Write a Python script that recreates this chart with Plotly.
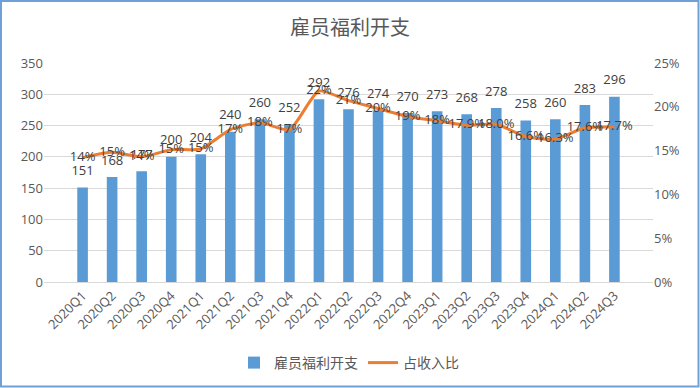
import plotly.graph_objects as go

quarters = ["2020Q1", "2020Q2", "2020Q3", "2020Q4", "2021Q1", "2021Q2", "2021Q3", "2021Q4",
            "2022Q1", "2022Q2", "2022Q3", "2022Q4", "2023Q1", "2023Q2", "2023Q3", "2023Q4",
            "2024Q1", "2024Q2", "2024Q3"]
expense = [151, 168, 177, 200, 204, 240, 260, 252, 292, 276, 274, 270, 273, 268, 278, 258, 260, 283, 296]
ratio = [0.142, 0.148, 0.143, 0.151, 0.152, 0.174, 0.182, 0.174, 0.218, 0.207, 0.198, 0.189,
         0.184, 0.179, 0.180, 0.166, 0.163, 0.176, 0.177]
ratio_labels = ["14%", "15%", "14%", "15%", "15%", "17%", "18%", "17%", "22%", "21%", "20%", "19%",
                "18%", "17.9%", "18.0%", "16.6%", "16.3%", "17.6%", "17.7%"]

W, H = 700, 388
ML, MR, MT, MB = 44, 47, 63, 106
PW, PH = W - ML - MR, H - MT - MB

def px_x(px):
    return (px - ML) / PW

def px_y(py):
    return (H - MB - py) / PH

FONT = "Open Sans, Noto Sans CJK SC, sans-serif"
CJK = "Noto Sans CJK SC, sans-serif"

fig = go.Figure()
fig.add_trace(go.Bar(
    x=quarters, y=expense, name="雇员福利开支",
    marker=dict(color="#5B9BD5", line=dict(width=0)),
    width=0.36, hoverinfo="x+y",
))
fig.add_trace(go.Scatter(
    x=quarters, y=ratio, name="占收入比", yaxis="y2",
    mode="lines", line=dict(color="#ED7D31", width=3, shape="spline", smoothing=0.6),
))
# bar value labels (above bars)
fig.add_trace(go.Scatter(
    x=quarters, y=expense, mode="markers+text", showlegend=False,
    marker=dict(size=13, opacity=0),
    text=[str(v) for v in expense], textposition="top center",
    textfont=dict(family=FONT, size=13, color="#404040"),
    cliponaxis=False, hoverinfo="skip",
))
# ratio labels centred on the line points
fig.add_trace(go.Scatter(
    x=quarters, y=ratio, yaxis="y2", mode="text", showlegend=False,
    text=ratio_labels, textposition="middle center",
    textfont=dict(family=FONT, size=13, color="#404040"),
    cliponaxis=False, hoverinfo="skip",
))

fig.update_layout(
    width=W, height=H,
    margin=dict(l=ML, r=MR, t=MT, b=MB, autoexpand=False),
    paper_bgcolor="white", plot_bgcolor="white",
    title=dict(text="雇员福利开支", x=0.5, xanchor="center", y=1 - 28 / H, yanchor="middle",
               font=dict(family=CJK, size=20, color="#595959")),
    xaxis=dict(type="category", tickangle=-45, showgrid=False, ticks="", automargin=False,
               showline=True, linecolor="#D9D9D9", linewidth=1,
               tickfont=dict(family=FONT, size=13, color="#595959")),
    yaxis=dict(range=[0, 350], dtick=50, showgrid=True, gridcolor="#D9D9D9", gridwidth=1,
               zeroline=False, ticks="", showline=False, automargin=False,
               tickfont=dict(family=FONT, size=13, color="#595959")),
    yaxis2=dict(range=[0, 0.25], dtick=0.05, tickformat=".0%", overlaying="y", side="right",
                showgrid=False, zeroline=False, ticks="", showline=False, automargin=False,
                tickfont=dict(family=FONT, size=13, color="#595959")),
    legend=dict(orientation="h", x=px_x(349), xanchor="center", y=px_y(363), yanchor="middle",
                font=dict(family=CJK, size=14, color="#595959"), itemwidth=30,
                traceorder="normal"),
    showlegend=True,
)

fig.add_shape(type="rect", xref="paper", yref="paper",
              x0=px_x(1), x1=px_x(698.5), y0=px_y(386.5), y1=px_y(1),
              line=dict(color="#6FA1D6", width=2), fillcolor="rgba(0,0,0,0)", layer="above")

fig.write_html("out.html", config={"displayModeBar": False},
               post_script="document.body.style.margin='0';document.body.style.overflow='hidden';")
